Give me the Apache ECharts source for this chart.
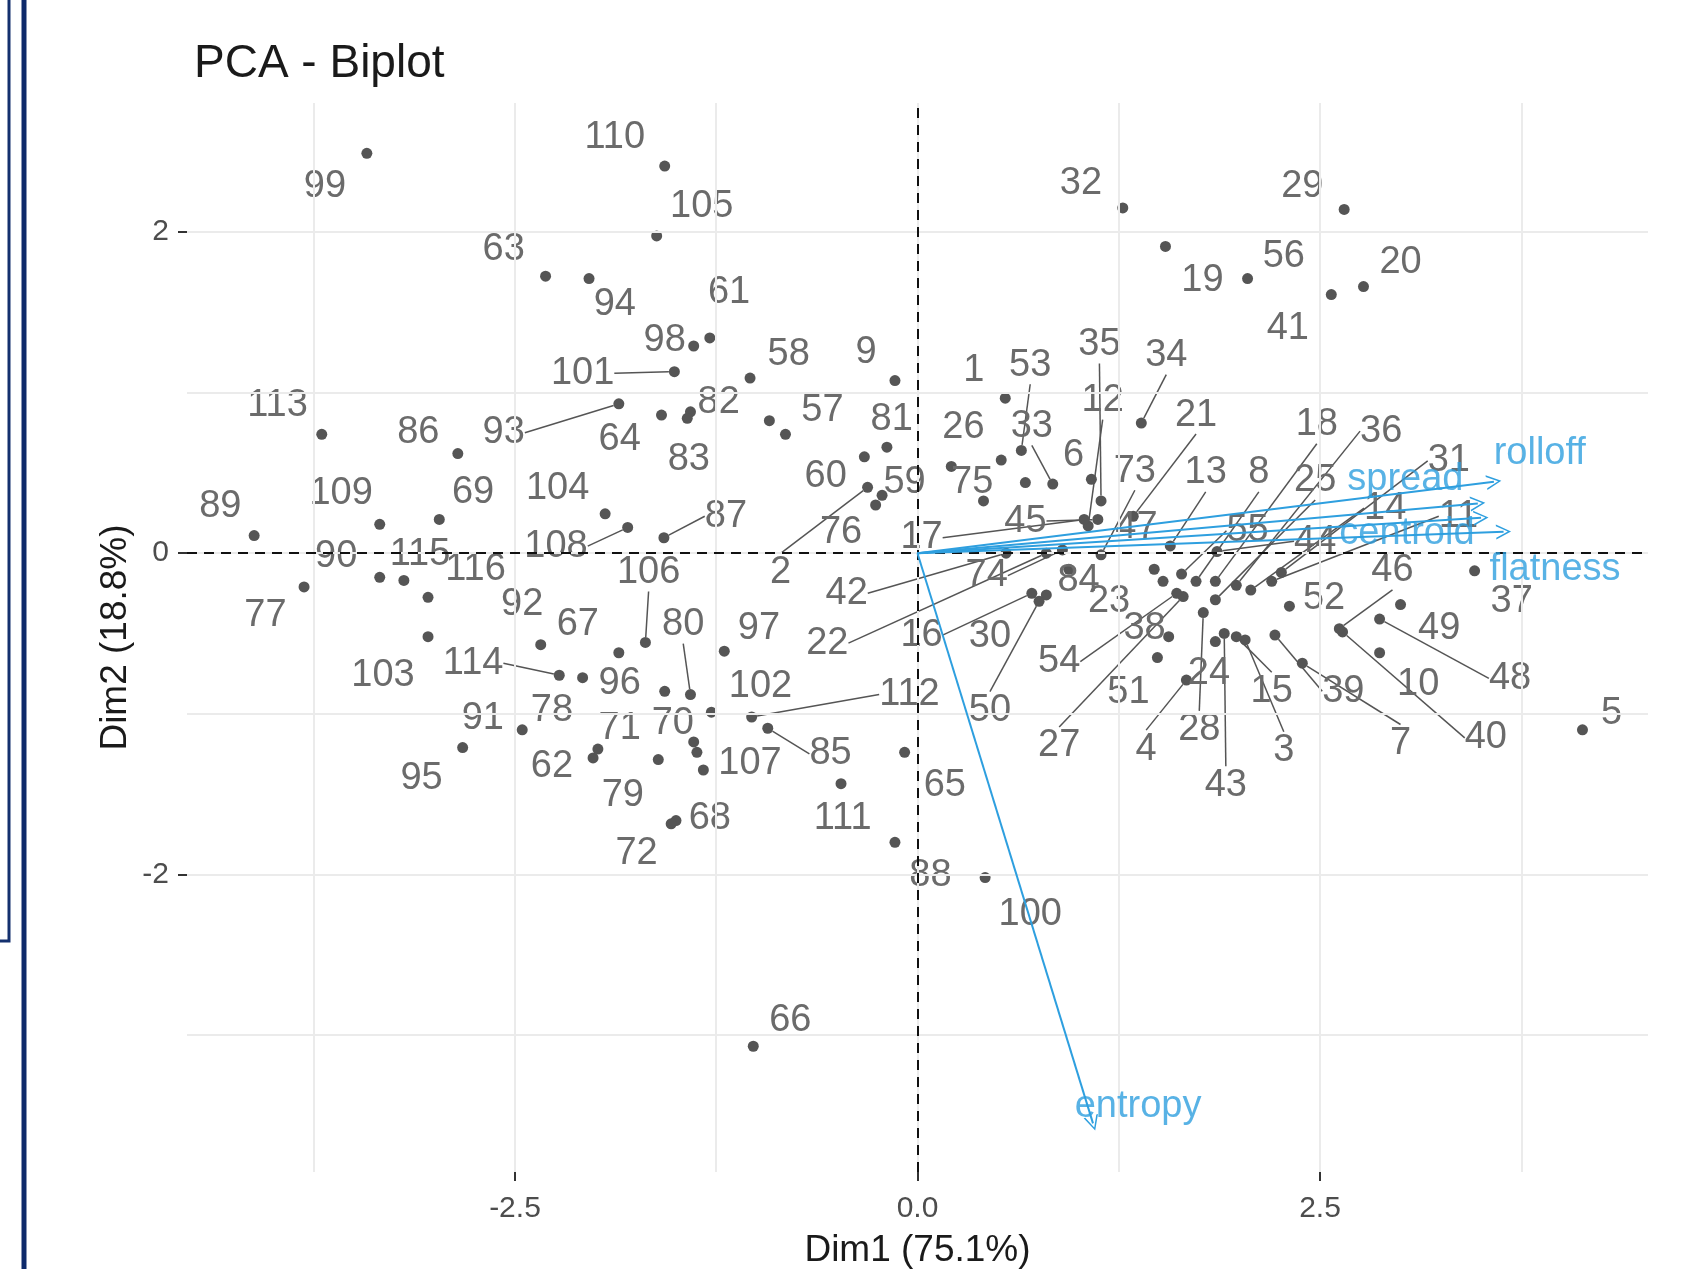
<!DOCTYPE html>
<html>
<head>
<meta charset="utf-8">
<title>PCA - Biplot</title>
<script src="https://cdn.jsdelivr.net/npm/echarts@6/dist/echarts.min.js"></script>
<style>
  html, body { margin: 0; padding: 0; background: #fff; }
  #pca-biplot { width: 1687px; height: 1269px; }
</style>
</head>
<body>
<div id="pca-biplot"></div>
<script>
// individuals 1..116 : scores on Dim1 / Dim2 (index = id - 1)
var dim1 = [
  0.545, -0.31, 2.035, 1.67, 4.13, 1.08, 2.39, 1.73, -0.14, 2.87,
  2.20, 1.06, 1.57, 2.07, 1.98, 0.71, 1.035, 1.85, 1.54, 2.77,
  1.34, 0.80, 1.525, 1.85, 1.85, 0.21, 1.65, 1.775, 2.65, 0.80,
  2.26, 1.275, 0.84, 1.39, 1.14, 1.98, 3.46, 1.56, 2.22, 2.64,
  2.57, 0.55, 1.905, 1.86, 1.12, 2.62, 1.47, 2.87, 3.00, 0.755,
  1.49, 2.31, 0.645, 1.61, 1.64, 2.05, -0.92, -1.04, -0.26, -0.33,
  -1.29, -2.015, -2.31, -1.59, -0.08, -1.02, -1.855, -1.50, -2.97, -1.39,
  -1.985, -1.53, 1.14, 0.90, 0.41, -0.22, -3.81, -2.08, -1.61, -1.41,
  -0.19, -1.41, -1.43, 0.94, -0.93, -2.855, -1.575, -0.14, -4.12, -3.34,
  -2.455, -2.34, -1.855, -2.04, -2.825, -1.57, -1.20, -1.39, -3.42, 0.42,
  -1.51, -1.28, -3.04, -1.94, -1.62, -1.69, -1.33, -1.80, -3.34, -1.57,
  -0.475, -1.03, -3.70, -2.225, -3.19, -3.04
];
var dim2 = [
  0.965, 0.41, -0.54, -0.79, -1.10, 0.46, -0.685, -0.175, 1.075, -0.62,
  -0.175, 0.17, 0.045, -0.23, -0.52, -0.25, 0.21, -0.175, 1.91, 1.66,
  0.23, 0.0, -0.175, -0.55, -0.29, 0.54, -0.27, -0.37, 2.14, -0.26,
  -0.12, 2.15, 0.43, 0.81, 0.325, -0.20, -0.11, -0.52, -0.51, -0.49,
  1.61, 0.0, -0.50, 0.01, 0.21, -0.47, -0.10, -0.41, -0.32, -0.30,
  -0.65, -0.33, 0.64, -0.25, -0.13, 1.71, 0.825, 1.09, 0.30, 0.60,
  1.34, -1.275, 1.725, 0.86, -1.24, -3.07, -0.62, -1.665, 0.21, -1.175,
  -1.22, -1.685, -0.01, 0.02, 0.325, 0.36, -0.21, -0.775, -1.285, -0.88,
  0.66, 0.88, 0.84, -0.10, -1.09, 0.62, 0.096, -1.80, 0.11, -0.15,
  -1.10, -0.57, 0.93, 1.71, -1.21, -0.86, -0.61, 1.29, 2.49, -2.02,
  1.13, -0.99, -0.52, 0.245, 1.975, -0.556, -1.35, 0.16, 0.18, 2.41,
  -1.435, -1.02, 0.74, -0.76, -0.17, -0.275
];

// where each id label sits (repelled), same units as the scores
var labelDim1 = [
  0.35, -0.85, 2.275, 1.42, 4.31, 0.97, 3.00, 2.12, -0.32, 3.11,
  3.36, 1.15, 1.79, 2.905, 2.20, 0.025, 0.025, 2.48, 1.77, 3.00,
  1.73, -0.56, 1.19, 1.81, 2.47, 0.285, 0.88, 1.75, 2.39, 0.45,
  3.30, 1.015, 0.71, 1.545, 1.13, 2.88, 3.69, 1.41, 2.645, 3.53,
  2.30, -0.44, 1.915, 2.47, 0.67, 2.95, 1.36, 3.68, 3.24, 0.45,
  1.31, 2.525, 0.70, 0.88, 2.05, 2.275, -0.59, -0.80, -0.08, -0.57,
  -1.17, -2.27, -2.57, -1.85, 0.17, -0.79, -2.11, -1.29, -2.76, -1.52,
  -1.85, -1.745, 1.35, 0.43, 0.34, -0.475, -4.05, -2.27, -1.83, -1.455,
  -0.16, -1.235, -1.42, 1.00, -0.54, -3.10, -1.19, 0.08, -4.33, -3.61,
  -2.70, -2.455, -2.57, -1.88, -3.08, -1.85, -0.985, -1.57, -3.68, 0.70,
  -2.08, -0.975, -3.32, -2.235, -1.34, -1.67, -1.04, -2.245, -3.58, -1.88,
  -0.465, -0.05, -3.975, -2.76, -3.09, -2.745
];
var labelDim2 = [
  1.14, -0.12, -1.23, -1.22, -1.00, 0.61, -1.185, 0.50, 1.25, -0.82,
  0.23, 0.95, 0.50, 0.28, -0.86, -0.51, 0.096, 0.80, 1.70, 1.81,
  0.86, -0.56, -0.30, -0.75, 0.45, 0.78, -1.20, -1.10, 2.28, -0.52,
  0.575, 2.30, 0.79, 1.23, 1.30, 0.76, -0.30, -0.47, -0.86, -1.15,
  1.40, -0.25, -1.445, 0.075, 0.20, -0.11, 0.16, -0.78, -0.47, -0.98,
  -0.87, -0.28, 1.17, -0.675, 0.14, 1.85, 0.89, 1.24, 0.44, 0.48,
  1.62, -1.33, 1.89, 0.71, -1.445, -2.91, -0.445, -1.65, 0.38, -1.06,
  -1.09, -1.87, 0.51, -0.14, 0.44, 0.127, -0.39, -0.98, -1.51, -0.445,
  0.835, 0.94, 0.585, -0.17, -1.25, 0.75, 0.23, -2.01, 0.29, -0.02,
  -1.03, -0.32, 0.75, 1.55, -1.40, -0.81, -0.47, 1.325, 2.28, -2.25,
  1.12, -0.83, -0.76, 0.40, 2.16, -0.12, -1.31, 0.044, 0.37, 2.59,
  -1.65, -0.88, 0.92, -0.685, -0.01, -0.10
];

// labels that were pushed away far enough to get a segment
var linkedIds = [2, 3, 4, 7, 8, 11, 12, 13, 14, 15, 16, 17, 18, 21, 22, 25, 27, 28, 31, 33,
  34, 35, 36, 39, 40, 42, 43, 44, 45, 46, 48, 50, 53, 54, 55, 73, 74, 80, 85, 87,
  93, 101, 106, 108, 112, 114];

// points whose labels got dropped
var extraDim1 = [-0.82, 0.52, 0.67, -1.37];
var extraDim2 = [0.74, 0.58, 0.44, -1.24];

// variables (arrows)
var varNames = ['rolloff', 'spread', 'flatness', 'centroid', 'entropy'];
var varDim1 = [3.58, 3.48, 3.50, 3.64, 1.09];
var varDim2 = [0.445, 0.31, 0.22, 0.134, -3.55];
var varLabelDim1 = [3.865, 3.03, 3.96, 3.04, 1.37];
var varLabelDim2 = [0.62, 0.46, -0.10, 0.12, -3.445];

var xTicks = [-2.5, 0, 2.5];
var yTicks = [-2, 0, 2];
var xGrid = [-3.75, -2.5, -1.25, 0, 1.25, 2.5, 3.75];
var yGrid = [-3, -2, -1, 0, 1, 2];

var X_MIN = -4.537, X_MAX = 4.537, Y_MIN = -3.853, Y_MAX = 2.803;
var GRID = { left: 187, right: 39, top: 103, bottom: 97 };
var FONT = '"Liberation Sans", Arial, sans-serif';
var BLUE = '#2E9FDF';

var myChart = echarts.init(document.getElementById('pca-biplot'));

function toPx(p) {
  var px = null;
  try { px = myChart.convertToPixel({ gridIndex: 0 }, p); } catch (e) { px = null; }
  if (!px || isNaN(px[0])) {
    var w = 1687 - GRID.left - GRID.right, h = 1269 - GRID.top - GRID.bottom;
    px = [GRID.left + (p[0] - X_MIN) / (X_MAX - X_MIN) * w,
          GRID.top + (Y_MAX - p[1]) / (Y_MAX - Y_MIN) * h];
  }
  return px;
}

var linkedData = [], linkedLabels = [];
var freeData = [], freeLabels = [];
for (var i = 0; i < dim1.length; i++) {
  var id = i + 1;
  var item = { name: String(id), value: [dim1[i], dim2[i]] };
  if (linkedIds.indexOf(id) >= 0) {
    linkedData.push(item);
    linkedLabels.push([labelDim1[i], labelDim2[i]]);
  } else {
    freeData.push(item);
    freeLabels.push([labelDim1[i], labelDim2[i]]);
  }
}
var extraData = extraDim1.map(function (x, k) { return [x, extraDim2[k]]; });

function placeLabels(list) {
  return function (params) {
    var p = toPx(list[params.dataIndex]);
    return { x: p[0], y: p[1], align: 'center', verticalAlign: 'middle' };
  };
}

var pointLabel = {
  show: true, position: 'inside', formatter: '{b}',
  color: '#6b6b6b', fontSize: 38, fontFamily: FONT
};

var option = {
  animation: false,
  backgroundColor: '#fff',
  title: {
    text: 'PCA - Biplot', left: 189, top: 36,
    textStyle: { fontSize: 46, fontWeight: 'normal', color: '#1a1a1a', fontFamily: FONT }
  },
  grid: {
    left: GRID.left, right: GRID.right, top: GRID.top, bottom: GRID.bottom,
    containLabel: false, outerBoundsMode: 'none'
  },
  xAxis: {
    type: 'value', min: X_MIN, max: X_MAX,
    splitLine: { show: false },
    axisLine: { show: false, onZero: false },
    axisTick: { show: true, customValues: xTicks, length: 9, lineStyle: { color: '#333', width: 2 } },
    axisLabel: {
      customValues: xTicks, margin: 22, fontSize: 30, color: '#4d4d4d', fontFamily: FONT,
      formatter: function (v) { return v.toFixed(1); }
    },
    name: 'Dim1 (75.1%)', nameLocation: 'middle', nameGap: 60, nameMoveOverlap: false,
    nameTextStyle: { fontSize: 37, color: '#1a1a1a', fontFamily: FONT }
  },
  yAxis: {
    type: 'value', min: Y_MIN, max: Y_MAX,
    splitLine: { show: false },
    axisLine: { show: false, onZero: false },
    axisTick: { show: true, customValues: yTicks, length: 9, lineStyle: { color: '#333', width: 2 } },
    axisLabel: {
      customValues: yTicks, margin: 18, fontSize: 30, color: '#4d4d4d', fontFamily: FONT,
      formatter: function (v) { return String(v); }
    },
    name: 'Dim2 (18.8%)', nameLocation: 'middle', nameGap: 53, nameRotate: 90, nameMoveOverlap: false,
    nameTextStyle: { fontSize: 37, color: '#1a1a1a', fontFamily: FONT }
  },
  graphic: [
    { type: 'rect', shape: { x: -6, y: -6, width: 15, height: 947 },
      style: { fill: 'none', stroke: '#14306e', lineWidth: 3 } },
    { type: 'line', shape: { x1: 24, y1: 0, x2: 24, y2: 1269 },
      style: { stroke: '#0e2a6b', lineWidth: 5 } }
  ],
  series: [
    {
      // panel grid
      type: 'scatter', data: [], z: 0, silent: true,
      markLine: {
        silent: true, symbol: 'none', label: { show: false },
        lineStyle: { color: '#ebebeb', width: 2, type: 'solid' },
        data: xGrid.map(function (v) { return { xAxis: v }; })
          .concat(yGrid.map(function (v) { return { yAxis: v }; }))
      }
    },
    {
      // reference lines through the origin
      type: 'scatter', data: [], z: 1, silent: true,
      markLine: {
        silent: true, symbol: 'none', label: { show: false },
        lineStyle: { color: '#111', width: 2, type: [10, 7] },
        data: [{ xAxis: 0 }, { yAxis: 0 }]
      }
    },
    {
      type: 'scatter', z: 3, symbolSize: 11, data: extraData,
      itemStyle: { color: '#555', opacity: 1 }
    },
    {
      type: 'scatter', z: 3, symbolSize: 11, data: freeData,
      itemStyle: { color: '#555', opacity: 1 },
      label: pointLabel,
      labelLayout: placeLabels(freeLabels)
    },
    {
      type: 'scatter', z: 3, symbolSize: 11, data: linkedData,
      itemStyle: { color: '#555', opacity: 1 },
      label: pointLabel,
      labelLine: { show: true, lineStyle: { color: '#555', width: 1.5 } },
      labelLayout: placeLabels(linkedLabels)
    },
    {
      // variable arrows
      type: 'lines', coordinateSystem: 'cartesian2d', z: 5, silent: true,
      symbol: ['none', 'path://M0,12 L6,0 L12,12 L10.6,12 L6,2.6 L1.4,12 Z'],
      symbolSize: 15,
      lineStyle: { color: BLUE, width: 2, opacity: 1, curveness: 0 },
      data: varNames.map(function (n, k) {
        return { name: n, coords: [[0, 0], [varDim1[k], varDim2[k]]] };
      })
    },
    {
      type: 'scatter', z: 6, silent: true, symbolSize: 1,
      itemStyle: { color: 'transparent' },
      data: varNames.map(function (n, k) { return { name: n, value: [varLabelDim1[k], varLabelDim2[k]] }; }),
      label: {
        show: true, position: 'inside', formatter: '{b}',
        color: BLUE, fontSize: 38, fontFamily: FONT
      }
    }
  ]
};

myChart.setOption(option);
</script>
</body>
</html>
